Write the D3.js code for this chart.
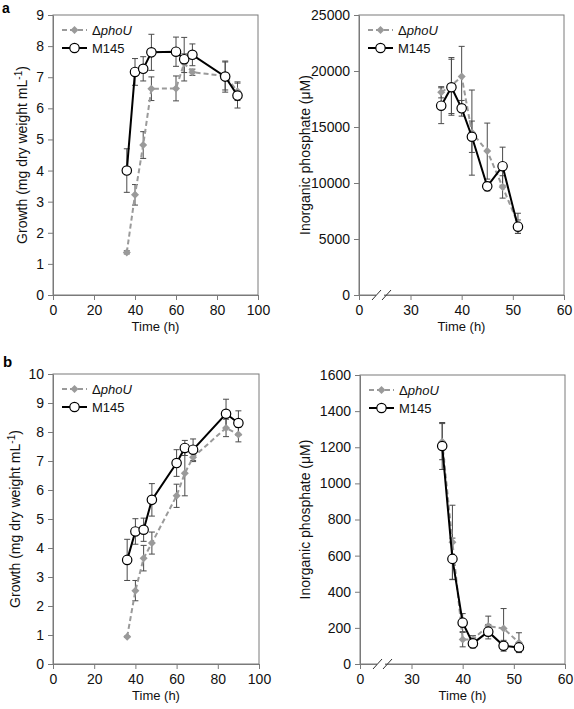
<!DOCTYPE html>
<html><head><meta charset="utf-8">
<script src="https://cdn.jsdelivr.net/npm/d3@7"></script>
<style>
html,body{margin:0;padding:0;background:#fff;}
svg{display:block;font-family:"Liberation Sans",Arial,Helvetica,sans-serif;}
</style></head>
<body>
<svg id="chart" width="574" height="709"></svg>
<script>
// ---------- DATA ----------
const seriesNames = ["\u0394phoU", "M145"];
const timesGrowth = [36, 40, 44, 48, 60, 64, 68, 84, 90];
const timesPi = [36, 38, 40, 42, 45, 48, 51];

// Panel a – growth
const growthA_phoU = [1.37, 3.22, 4.82, 6.63, 6.64, 7.45, 7.16, 7.04, 6.55];
const growthA_phoU_err = [0.05, 0.33, 0.43, 0.38, 0.40, 0.30, 0.10, 0.45, 0.30];
const growthA_M145 = [4.0, 7.17, 7.27, 7.80, 7.82, 7.58, 7.72, 7.02, 6.41];
const growthA_M145_err = [0.70, 0.43, 0.39, 0.58, 0.47, 0.70, 0.35, 0.50, 0.40];
// Panel a – inorganic phosphate
const piA_phoU = [18100, 18700, 19500, 14500, 12850, 9650, 6400];
const piA_phoU_err = [500, 2500, 2700, 3800, 2500, 1000, 900];
const piA_M145 = [16900, 18550, 16670, 14130, 9700, 11500, 6100];
const piA_M145_err = [1600, 2500, 700, 1400, 400, 1700, 600];

// Panel b – growth
const growthB_phoU = [0.94, 2.53, 3.65, 4.17, 5.80, 6.58, 7.13, 8.14, 7.91];
const growthB_phoU_err = [0.02, 0.35, 0.44, 0.38, 0.40, 0.78, 0.15, 0.30, 0.25];
const growthB_M145 = [3.59, 4.57, 4.63, 5.66, 6.93, 7.45, 7.39, 8.63, 8.31];
const growthB_M145_err = [0.71, 0.44, 0.40, 0.56, 0.46, 0.26, 0.37, 0.50, 0.42];
// Panel b – inorganic phosphate
const piB_phoU = [1231, 674, 135, 137, 210, 197, 118];
const piB_phoU_err = [100, 205, 40, 20, 55, 110, 55];
const piB_M145 = [1207, 582, 229, 114, 179, 101, 92];
const piB_M145_err = [130, 115, 50, 25, 40, 30, 25];

// Tick labels
const xTicksGrowth = [0, 20, 40, 60, 80, 100];
const yTicksGrowthA = [0, 1, 2, 3, 4, 5, 6, 7, 8, 9];
const yTicksGrowthB = [0, 1, 2, 3, 4, 5, 6, 7, 8, 9, 10];
const xTicksPi = [0, 30, 40, 50, 60];
const yTicksPiA = [0, 5000, 10000, 15000, 20000, 25000];
const yTicksPiB = [0, 200, 400, 600, 800, 1000, 1200, 1400, 1600];

const growthTitle = "Growth (mg dry weight mL";
const piTitle = "Inorganic phosphate (\u03bcM)";
const timeTitle = "Time (h)";

// ---------- DRAWING ----------
const svg = d3.select("#chart");
const FRAME = "#7a7a7a";
const GREY = "#9a9a9a";
const ERR = "#4a4a4a";

function drawPanel(cfg) {
  const g = svg.append("g");
  const x = cfg.broken
    ? d3.scaleLinear().domain([0, 30, 60]).range([cfg.L, cfg.L + 51.5, cfg.R])
    : d3.scaleLinear().domain(cfg.xDomain).range([cfg.L, cfg.R]);
  const y = d3.scaleLinear().domain(cfg.yDomain).range([cfg.B, cfg.T]);

  // frame
  g.append("rect").attr("x", cfg.L).attr("y", cfg.T)
    .attr("width", cfg.R - cfg.L).attr("height", cfg.B - cfg.T)
    .attr("fill", "none").attr("stroke", FRAME).attr("stroke-width", 1);

  const fmt = d3.format("d");
  const ax = g.append("g").attr("transform", `translate(0,${cfg.B})`)
    .call(d3.axisBottom(x).tickValues(cfg.xTicks).tickFormat(fmt).tickSize(5).tickSizeOuter(0).tickPadding(5));
  const ay = g.append("g").attr("transform", `translate(${cfg.L},0)`)
    .call(d3.axisLeft(y).tickValues(cfg.yTicks).tickFormat(fmt).tickSize(5).tickSizeOuter(0).tickPadding(4));
  [ax, ay].forEach(a => {
    a.select(".domain").attr("stroke", FRAME);
    a.selectAll(".tick line").attr("stroke", FRAME);
    a.selectAll(".tick text").attr("fill", "#111").style("font-size", "14px")
      .style("font-family", '"Liberation Sans",Arial,sans-serif');
  });

  if (cfg.broken) {
    // axis break marks
    const bx = x(0) + 14;
    g.append("rect").attr("x", bx + 3).attr("y", cfg.B - 2).attr("width", 8).attr("height", 4).attr("fill", "#fff");
    [0, 10].forEach(o => {
      g.append("line").attr("x1", bx + o - 1).attr("y1", cfg.B + 5)
        .attr("x2", bx + o + 8).attr("y2", cfg.B - 5)
        .attr("stroke", "#333").attr("stroke-width", 1);
    });
  }

  // titles
  g.append("text").attr("x", (cfg.L + cfg.R) / 2).attr("y", cfg.B + 36)
    .attr("text-anchor", "middle").style("font-size", "13px").attr("fill", "#111").text(timeTitle);
  const yt = g.append("text").attr("text-anchor", "middle")
    .attr("transform", `translate(${cfg.yTitleX},${(cfg.T + cfg.B) / 2}) rotate(-90)`)
    .style("font-size", "14px").attr("fill", "#111");
  if (cfg.growth) {
    yt.append("tspan").text(growthTitle);
    yt.append("tspan").attr("dy", -5).style("font-size", "10px").text("-1");
    yt.append("tspan").attr("dy", 5).text(")");
  } else {
    yt.text(piTitle);
  }

  const t = cfg.times;
  const line = d3.line().x((d, i) => x(t[i])).y(d => y(d));

  function errorBars(vals, errs) {
    const eg = g.append("g").attr("stroke", ERR).attr("stroke-width", 1);
    vals.forEach((v, i) => {
      const cx = x(t[i]), y1 = y(v + errs[i]), y2 = y(v - errs[i]);
      eg.append("line").attr("x1", cx).attr("x2", cx).attr("y1", y1).attr("y2", y2);
      eg.append("line").attr("x1", cx - 3).attr("x2", cx + 3).attr("y1", y1).attr("y2", y1);
      eg.append("line").attr("x1", cx - 3).attr("x2", cx + 3).attr("y1", y2).attr("y2", y2);
    });
  }
  errorBars(cfg.phoU, cfg.phoUErr);
  errorBars(cfg.m145, cfg.m145Err);

  const diamond = d3.symbol().type(d3.symbolSquare).size(32);
  // ΔphoU series
  g.append("path").datum(cfg.phoU).attr("d", line).attr("fill", "none")
    .attr("stroke", GREY).attr("stroke-width", 2).attr("stroke-dasharray", "5,3");
  g.selectAll(".dia").data(cfg.phoU).enter().append("path")
    .attr("d", diamond).attr("fill", GREY)
    .attr("transform", (d, i) => `translate(${x(t[i])},${y(d)}) rotate(45)`);
  // M145 series
  g.append("path").datum(cfg.m145).attr("d", line).attr("fill", "none")
    .attr("stroke", "#000").attr("stroke-width", 2);
  g.selectAll(".circ").data(cfg.m145).enter().append("circle")
    .attr("cx", (d, i) => x(t[i])).attr("cy", d => y(d)).attr("r", 4.7)
    .attr("fill", "#fff").attr("stroke", "#000").attr("stroke-width", 1.2);

  // legend
  const lg = g.append("g");
  const ly1 = cfg.T + 15, ly2 = cfg.T + 33;
  const lx0 = cfg.L + 9, lx1 = cfg.L + 34, lm = cfg.L + 21.5, lt = cfg.L + 39;
  lg.append("line").attr("x1", lx0).attr("x2", lx1).attr("y1", ly1).attr("y2", ly1)
    .attr("stroke", GREY).attr("stroke-width", 2).attr("stroke-dasharray", "5,3");
  lg.append("path").attr("d", diamond).attr("fill", GREY)
    .attr("transform", `translate(${lm},${ly1}) rotate(45)`);
  const t1 = lg.append("text").attr("x", lt).attr("y", ly1 + 5).style("font-size", "13px").attr("fill", "#111");
  t1.append("tspan").text(seriesNames[0].charAt(0));
  t1.append("tspan").style("font-style", "italic").text(seriesNames[0].slice(1));
  lg.append("line").attr("x1", lx0).attr("x2", lx1).attr("y1", ly2).attr("y2", ly2)
    .attr("stroke", "#000").attr("stroke-width", 2);
  lg.append("circle").attr("cx", lm).attr("cy", ly2).attr("r", 4.7)
    .attr("fill", "#fff").attr("stroke", "#000").attr("stroke-width", 1.2);
  lg.append("text").attr("x", lt).attr("y", ly2 + 5).style("font-size", "13px").attr("fill", "#111").text(seriesNames[1]);
}

drawPanel({L: 53, R: 258, T: 15, B: 295, xDomain: [0, 100], yDomain: [0, 9],
  xTicks: xTicksGrowth, yTicks: yTicksGrowthA, times: timesGrowth, growth: true, yTitleX: 26.5,
  phoU: growthA_phoU, phoUErr: growthA_phoU_err, m145: growthA_M145, m145Err: growthA_M145_err});
drawPanel({L: 359, R: 564, T: 15, B: 295, broken: true, yDomain: [0, 25000],
  xTicks: xTicksPi, yTicks: yTicksPiA, times: timesPi, growth: false, yTitleX: 310,
  phoU: piA_phoU, phoUErr: piA_phoU_err, m145: piA_M145, m145Err: piA_M145_err});
drawPanel({L: 53, R: 259, T: 374, B: 664, xDomain: [0, 100], yDomain: [0, 10],
  xTicks: xTicksGrowth, yTicks: yTicksGrowthB, times: timesGrowth, growth: true, yTitleX: 20,
  phoU: growthB_phoU, phoUErr: growthB_phoU_err, m145: growthB_M145, m145Err: growthB_M145_err});
drawPanel({L: 360, R: 565, T: 375, B: 664, broken: true, yDomain: [0, 1600],
  xTicks: xTicksPi, yTicks: yTicksPiB, times: timesPi, growth: false, yTitleX: 310,
  phoU: piB_phoU, phoUErr: piB_phoU_err, m145: piB_M145, m145Err: piB_M145_err});

svg.append("text").attr("x", 2).attr("y", 13).style("font-size", "14px").style("font-weight", "bold").text("a");
svg.append("text").attr("x", 3).attr("y", 367).style("font-size", "15px").style("font-weight", "bold").text("b");
</script>
</body></html>
